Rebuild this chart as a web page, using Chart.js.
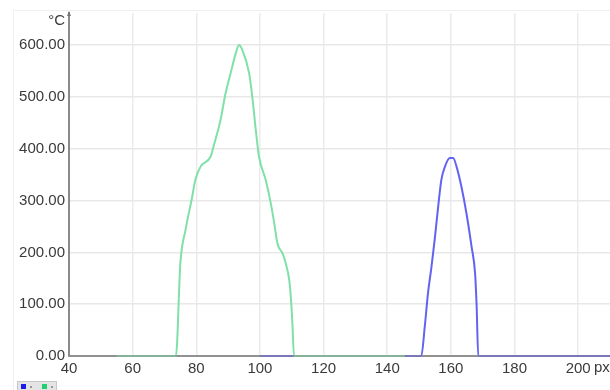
<!DOCTYPE html>
<html>
<head>
<meta charset="utf-8">
<script src="https://cdn.jsdelivr.net/npm/chart.js@4"></script>
<style>
  body { margin: 0; background: #fff; }
  canvas { display: block; }
</style>
</head>
<body>
<canvas id="profileChart" width="610" height="390"></canvas>
<script>
// Temperature profile along a line (px on x, °C on y)
const greenX = [55, 73.6, 75, 76.6, 78.7, 79.7, 81.3, 84.5, 85.4, 87.6, 89.2, 90.8, 92.4, 93.4, 94.5, 96.6, 97.6, 98.7, 99.7, 101.8, 103.4, 104.5, 105.5, 107.1, 108.1, 109.2, 109.7, 110.2, 110.7, 145.5];
const greenY = [0, 0, 180, 243, 307, 340, 365, 385, 404, 455, 507, 546, 584, 600, 590, 546, 500, 436, 385, 340, 295, 256, 217, 198, 179, 147, 114, 63, 0, 0];

const blueX = [100, 150.7, 151.8, 152.8, 153.9, 154.9, 156, 157, 158.1, 159.7, 160.7, 161.8, 163.3, 164.9, 166.5, 167.6, 168.1, 168.6, 210];
const blueY = [0, 0, 57, 121, 172, 224, 288, 340, 365, 382, 382, 365, 327, 275, 211, 160, 95, 0, 0];

const xTicks = [40, 60, 80, 100, 120, 140, 160, 180, 200];
const yTicks = [0, 100, 200, 300, 400, 500, 600];

function toPoints(xs, ys) {
    return xs.map((x, i) => ({ x: x, y: ys[i] }));
}

const FONT = "'Liberation Sans', Arial, sans-serif";

// frame, axis arrow, unit labels, mini legend
const extras = {
    id: 'extras',
    beforeDraw(chart) {
        const ctx = chart.ctx;
        ctx.save();
        ctx.strokeStyle = '#f0f0f0';
        ctx.lineWidth = 1;
        ctx.beginPath();
        ctx.moveTo(13.5, 10);
        ctx.lineTo(13.5, 390);
        ctx.moveTo(13, 10.5);
        ctx.lineTo(610, 10.5);
        ctx.stroke();
        ctx.restore();
    },
    afterDatasetsDraw(chart) {
        const ctx = chart.ctx;
        const area = chart.chartArea;
        ctx.save();
        // x axis drawn over the flat parts of the lines
        ctx.strokeStyle = 'rgba(140,140,140,0.55)';
        ctx.lineWidth = 2;
        ctx.beginPath();
        ctx.moveTo(area.left, area.bottom);
        ctx.lineTo(area.right, area.bottom);
        ctx.stroke();
        // arrow on y axis
        ctx.fillStyle = '#777';
        ctx.beginPath();
        ctx.moveTo(area.left, area.top - 2);
        ctx.lineTo(area.left - 2, area.top + 3);
        ctx.lineTo(area.left + 2, area.top + 3);
        ctx.closePath();
        ctx.fill();
        // units
        ctx.fillStyle = '#3a3a3a';
        ctx.font = '15px ' + FONT;
        ctx.textBaseline = 'middle';
        ctx.textAlign = 'right';
        ctx.fillText('°C', 65, 21);
        ctx.textAlign = 'left';
        ctx.fillText('px', 594, 368);
        // mini legend
        ctx.fillStyle = '#e4e4e4';
        ctx.fillRect(17, 381, 40, 9);
        ctx.strokeStyle = '#c8c8c8';
        ctx.lineWidth = 1;
        ctx.strokeRect(17.5, 381.5, 39, 9);
        ctx.fillStyle = '#1a1aee';
        ctx.fillRect(21, 384, 5, 5);
        ctx.fillStyle = '#20d070';
        ctx.fillRect(42, 384, 5, 5);
        ctx.fillStyle = '#999';
        ctx.fillRect(30, 386, 2, 2);
        ctx.fillRect(51, 386, 2, 2);
        ctx.restore();
    }
};

const profileCtx = document.getElementById('profileChart').getContext('2d');
const profileChart = new Chart(profileCtx, {
    type: 'line',
    data: {
        datasets: [{
            label: 'Line 1',
            data: toPoints(blueX, blueY),
            borderColor: '#6363f2',
            borderWidth: 2,
            pointRadius: 0,
            cubicInterpolationMode: 'monotone',
            clip: 6,
            order: 2
        }, {
            label: 'Line 2',
            data: toPoints(greenX, greenY),
            borderColor: '#7fe0a8',
            borderWidth: 2,
            pointRadius: 0,
            cubicInterpolationMode: 'monotone',
            clip: 6,
            order: 1
        }]
    },
    options: {
        responsive: false,
        animation: false,
        layout: { padding: { top: 13, right: 0, left: 0, bottom: 0 } },
        plugins: {
            legend: { display: false },
            tooltip: { enabled: false }
        },
        scales: {
            x: {
                type: 'linear',
                min: 40,
                max: 210,
                afterFit: function(scale) { scale.height = 34; },
                afterBuildTicks: function(scale) {
                    scale.ticks = xTicks.map(v => ({ value: v }));
                },
                grid: { color: '#ebebeb', lineWidth: 1.5, drawTicks: false },
                border: { color: '#9a9a9a', width: 2 },
                ticks: {
                    padding: 4,
                    color: '#3a3a3a',
                    font: { family: FONT, size: 15 },
                    maxRotation: 0,
                    autoSkip: false
                }
            },
            y: {
                min: 0,
                max: 662,
                afterFit: function(scale) { scale.width = 69; },
                afterBuildTicks: function(scale) {
                    scale.ticks = yTicks.map(v => ({ value: v }));
                },
                grid: { color: '#e8e8e8', lineWidth: 1.5, drawTicks: false },
                border: { color: '#8a8a8a', width: 2 },
                ticks: {
                    padding: 4,
                    color: '#3a3a3a',
                    font: { family: FONT, size: 15 },
                    callback: function(value) {
                        return value.toFixed(2);
                    }
                }
            }
        }
    },
    plugins: [extras]
});
</script>
</body>
</html>
